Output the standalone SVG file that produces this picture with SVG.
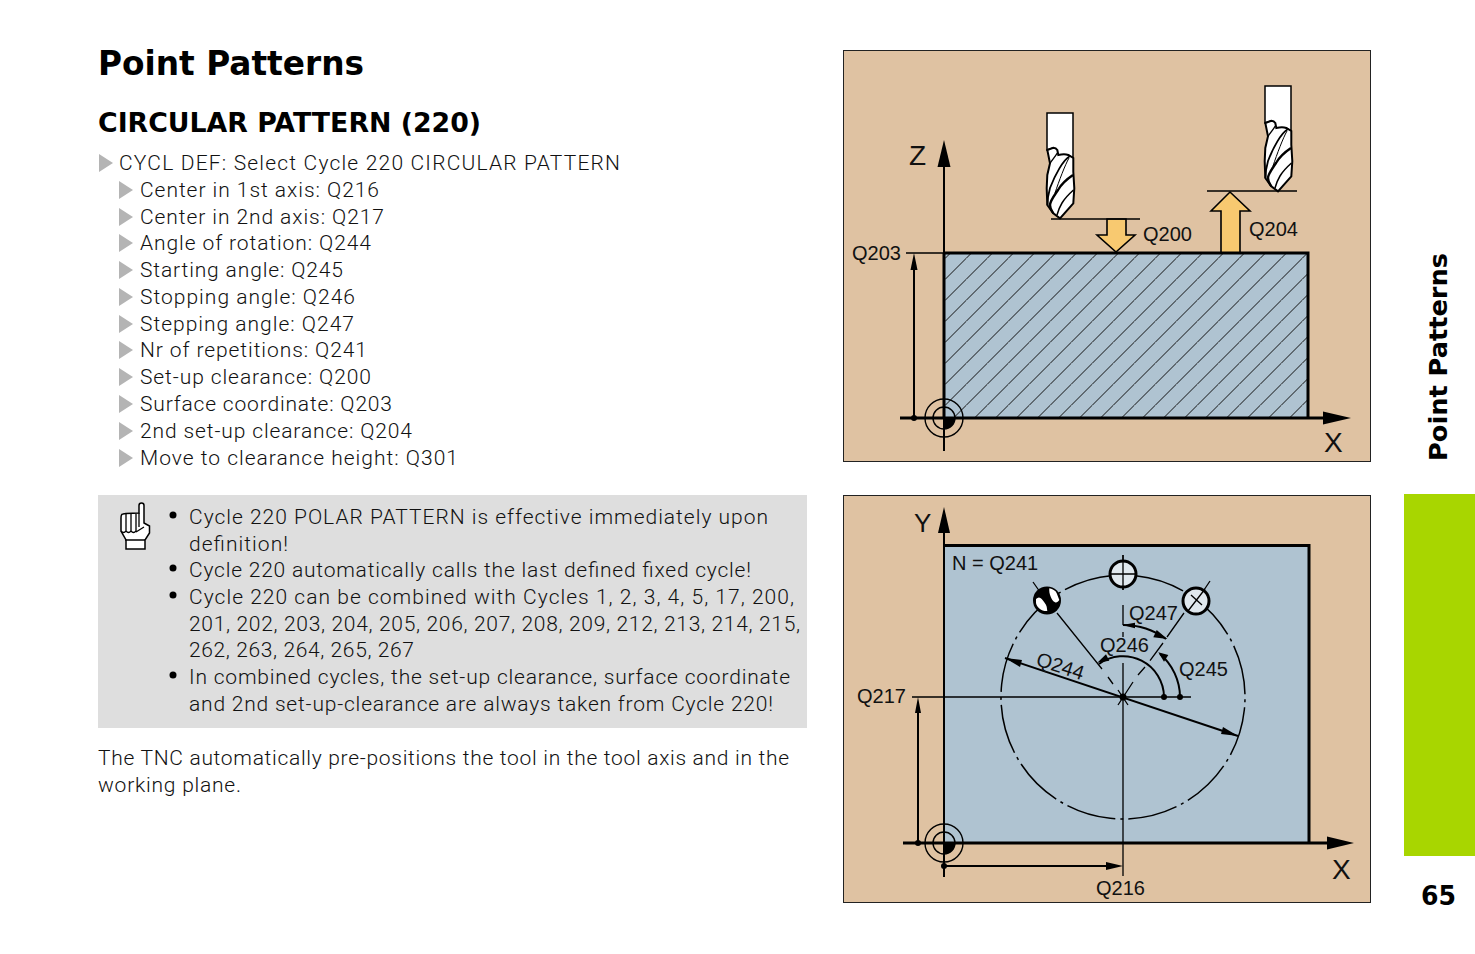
<svg xmlns="http://www.w3.org/2000/svg" xmlns:xlink="http://www.w3.org/1999/xlink" width="1475" height="954" viewBox="0 0 1475 954">
<style>
.t{font-family:Roboto,"Liberation Sans",sans-serif;font-weight:300;font-size:21px;fill:#111}
.h{font-family:"DejaVu Sans",sans-serif;font-weight:700;fill:#000}
.l{font-family:"Liberation Sans",Arial,sans-serif;font-size:20px;fill:#111}
.a{font-family:"Liberation Sans",Arial,sans-serif;font-size:28px;fill:#111}
.panel{fill:#dfc2a2;stroke:#222;stroke-width:1}
.blk{fill:#afc3d1}
.w{fill:none;stroke:#000;stroke-width:1.300}
.m{fill:none;stroke:#000;stroke-width:2}
.d{fill:#000}
.tri{fill:#b4b4b4}
.y{fill:#f8c970;stroke:#000;stroke-width:1.600}
.hole{fill:#e0e8ee;stroke:#000;stroke-width:3}
</style>
<defs>
<pattern id="hatch" patternUnits="userSpaceOnUse" width="21" height="21">
<path d="M6.500 0L0 6.500M27.500 0L0 27.500" stroke="#111" stroke-width="1" fill="none"/>
</pattern>
<polygon id="tr" points="0,0 14,9 0,18"/>
<g id="tool">
<path d="M0 0H26V45L21 42H11L6 35L0 37Z" fill="#fff" stroke="#000" stroke-width="1.500"/>
<path d="M0.300 37L6.300 34.700C9 35 10.300 37 10.300 37L11.300 42C15 41 19 41 21.300 42L26.300 45V58.700L27.300 75.300L26.300 90.300L13 105.300L6.300 100.300L0.300 92L-0.300 75.300L0.300 62L3 50.300Z" fill="#fff" stroke="#000" stroke-width="2"/>
<path d="M10.300 40C8 44 5 47 3 50.300" fill="none" stroke="#000" stroke-width="1.400"/>
<path d="M23 43C16 47 8 62 3 75C1 82 0.500 88 0.500 92" fill="none" stroke="#000" stroke-width="1.800"/>
<path d="M22 45C18 52 12 68 8 80" fill="none" stroke="#000" stroke-width="1"/>
<path d="M26 62C20 66 15 70 11 77C7 83 3 88 3 92C3 96 5 98 6.300 100.300" fill="none" stroke="#000" stroke-width="2.400"/>
<path d="M26.500 77C22 81 18 85 15 90C12 95 11 98 10 102" fill="none" stroke="#000" stroke-width="1.500"/>
</g>
<g id="origin">
<path d="M0 0H11A11 11 0 0 1 0 11Z" fill="#000"/>
<circle r="11" fill="none" stroke="#000" stroke-width="1.400"/>
<circle r="19" fill="none" stroke="#000" stroke-width="1.400"/>
</g>
</defs>
<rect width="1475" height="954" fill="#fff"/>

<g id="title">
<text class="h" x="98" y="75" font-size="33" textLength="266" lengthAdjust="spacingAndGlyphs">Point Patterns</text>
<text class="h" x="98" y="132" font-size="27" textLength="383" lengthAdjust="spacingAndGlyphs">CIRCULAR PATTERN (220)</text>
</g>

<g id="steps">
<use href="#tr" class="tri" x="99" y="154"/>
<text class="t" x="119" y="170" textLength="501">CYCL DEF: Select Cycle 220 CIRCULAR PATTERN</text>
<use href="#tr" class="tri" x="119" y="181"/><text class="t" x="140" y="197" textLength="239">Center in 1st axis: Q216</text>
<use href="#tr" class="tri" x="119" y="208"/><text class="t" x="140" y="224" textLength="244">Center in 2nd axis: Q217</text>
<use href="#tr" class="tri" x="119" y="234"/><text class="t" x="140" y="250" textLength="231">Angle of rotation: Q244</text>
<use href="#tr" class="tri" x="119" y="261"/><text class="t" x="140" y="277" textLength="203">Starting angle: Q245</text>
<use href="#tr" class="tri" x="119" y="288"/><text class="t" x="140" y="304" textLength="215">Stopping angle: Q246</text>
<use href="#tr" class="tri" x="119" y="315"/><text class="t" x="140" y="331" textLength="214">Stepping angle: Q247</text>
<use href="#tr" class="tri" x="119" y="341"/><text class="t" x="140" y="357" textLength="227">Nr of repetitions: Q241</text>
<use href="#tr" class="tri" x="119" y="368"/><text class="t" x="140" y="384" textLength="231">Set-up clearance: Q200</text>
<use href="#tr" class="tri" x="119" y="395"/><text class="t" x="140" y="411" textLength="252">Surface coordinate: Q203</text>
<use href="#tr" class="tri" x="119" y="422"/><text class="t" x="140" y="438" textLength="272">2nd set-up clearance: Q204</text>
<use href="#tr" class="tri" x="119" y="449"/><text class="t" x="140" y="465" textLength="318">Move to clearance height: Q301</text>
</g>

<g id="note">
<rect x="98" y="495" width="709" height="233" fill="#dedede"/>
<path d="M139 513V505.500Q139 503 141.500 503Q144 503 144 505.500V523L149.500 526V533L145 540V549H126V540L121 531V518Q121 514 123 514L126 513.500L139 513Z" fill="#fff" stroke="#000" stroke-width="1.500"/>
<path d="M126 514V531Q128.500 534 131 531V514M131 531Q133.500 534 136 531V514M139 513V527M121 531Q123.500 534 126 531M136 532L144 527M125 540H145" fill="none" stroke="#000" stroke-width="1.300"/>
<circle class="d" cx="173" cy="515" r="3.500"/><circle class="d" cx="173" cy="568" r="3.500"/><circle class="d" cx="173" cy="595" r="3.500"/><circle class="d" cx="173" cy="675" r="3.500"/>
<text class="t" x="189" y="523.500" textLength="579">Cycle 220 POLAR PATTERN is effective immediately upon</text>
<text class="t" x="189" y="550.500" textLength="99">definition!</text>
<text class="t" x="189" y="576.500" textLength="562">Cycle 220 automatically calls the last defined fixed cycle!</text>
<text class="t" x="189" y="603.500" textLength="605">Cycle 220 can be combined with Cycles 1, 2, 3, 4, 5, 17, 200,</text>
<text class="t" x="189" y="630.500" textLength="611">201, 202, 203, 204, 205, 206, 207, 208, 209, 212, 213, 214, 215,</text>
<text class="t" x="189" y="656.500" textLength="225">262, 263, 264, 265, 267</text>
<text class="t" x="189" y="683.500" textLength="601">In combined cycles, the set-up clearance, surface coordinate</text>
<text class="t" x="189" y="710.500" textLength="584">and 2nd set-up-clearance are always taken from Cycle 220!</text>
</g>

<g id="para">
<text class="t" x="98" y="764.500" textLength="691">The TNC automatically pre-positions the tool in the tool axis and in the</text>
<text class="t" x="98" y="791.500" textLength="143">working plane.</text>
</g>

<g id="side">
<rect x="1404" y="494" width="71" height="362" fill="#a8d600"/>
<text class="h" transform="translate(1447 461) rotate(-90)" font-size="25" textLength="208" lengthAdjust="spacingAndGlyphs">Point Patterns</text>
<text class="h" x="1421" y="905" font-size="27" textLength="35" lengthAdjust="spacingAndGlyphs">65</text>
</g>

<g id="diagram-top">
<rect class="panel" x="843.500" y="50.500" width="527" height="411"/>
<rect class="blk" x="944" y="253" width="364" height="165"/>
<rect x="944" y="253" width="364" height="165" fill="url(#hatch)"/>
<use href="#tool" x="1047" y="113"/>
<use href="#tool" x="1265" y="86"/>
<path class="y" d="M1107 219V235H1097L1116 252L1135 235H1126V219Z"/>
<path class="y" d="M1221 253V211H1211L1230 192L1250 211H1240V253Z"/>
<path d="M944 253V418M944 253H1308V418" fill="none" stroke="#000" stroke-width="3"/>
<use href="#origin" x="944" y="418"/>
<g id="connectors-top">
<path class="w" d="M1051 219H1140M1207 191H1297M906 253H944"/>
<path class="m" d="M944 165V451M914 262V418"/>
<path d="M900 418H1328" stroke="#000" stroke-width="3"/>
<polygon class="d" points="944,140 950.500,167 937.500,167"/>
<polygon class="d" points="1351,418 1323,411.500 1323,424.500"/>
<polygon class="d" points="914,253 917.500,270 910.500,270"/>
<circle class="d" cx="914" cy="418" r="3"/>
</g>
<text class="a" x="909" y="165">Z</text>
<text class="a" x="1324" y="452">X</text>
<text class="l" x="1143" y="241">Q200</text>
<text class="l" x="1249" y="236">Q204</text>
<text class="l" x="852" y="260">Q203</text>
</g>

<g id="diagram-bottom">
<rect class="panel" x="843.500" y="495.500" width="527" height="407"/>
<rect class="blk" x="944" y="545" width="365" height="298"/>
<path d="M944 545.500H1309V843" fill="none" stroke="#000" stroke-width="3"/>
<use href="#origin" x="944" y="843"/>
<circle cx="1123" cy="697" r="122" fill="none" stroke="#000" stroke-width="1.500" stroke-dasharray="50 5 3 5" transform="rotate(-84 1123 697)"/>
<g id="connectors-bottom">
<path class="w" d="M912 697H1191M1123 555V590M1123 605V625M1123 632V637M1123 663V876"/>
<path class="w" d="M1033 582L1040 592M1057 613L1102 669M1108 677L1113 684M1118 690L1128 705"/>
<path class="w" d="M1210 581L1204 590M1184 613L1167 637M1163 643L1150 660.700M1145 667L1138 675M1133 682L1118 705"/>
<path d="M1005 658L1238 736" class="m"/>
<polygon class="d" points="1005,658 1022,660 1020,667"/>
<polygon class="d" points="1238,736 1221,734 1223,727"/>
<path d="M1164 697A41 41 0 0 0 1099 664" class="m"/>
<polygon class="d" points="1097.300,662.700 1106,654.300 1109.300,660.700"/>
<path d="M1180 697A57 57 0 0 0 1160 654" class="m"/>
<polygon class="d" points="1158.300,652.300 1168.300,655 1164,661.700"/>
<path d="M1123 625A72 72 0 0 1 1166 639" class="m"/>
<polygon class="d" points="1122.300,625 1135,622.700 1135,628.300"/>
<polygon class="d" points="1167.300,639 1156.700,630 1153.300,637.300"/>
<circle class="d" cx="1123" cy="697" r="3.500"/><circle class="d" cx="1164" cy="697" r="3"/><circle class="d" cx="1180" cy="697" r="3"/>
<path class="m" d="M944 531V877M918 706V843M944 866H1110"/>
<path d="M903 843H1330" stroke="#000" stroke-width="3"/>
<polygon class="d" points="944,507 950,533 938,533"/>
<polygon class="d" points="1354,843 1327,836.500 1327,849.500"/>
<polygon class="d" points="918,697 921,713 915,713"/>
<polygon class="d" points="1123,866 1106,862 1106,870"/>
<circle class="d" cx="918" cy="843" r="3"/><circle class="d" cx="944" cy="866" r="3"/>
</g>
<g id="hole-start"><circle cx="1047" cy="600.500" r="14" fill="#000"/><path d="M1036 599C1038 597 1040 597 1041.700 599C1044 602 1046 604 1046.700 606.700L1047.300 611C1042 611.500 1037 608 1036 603ZM1049.300 588.300C1053 589 1056 591 1056.700 593.300L1059.300 600C1058 602 1056.500 603 1055 602.300C1052.500 601 1051.500 598.500 1050.700 596.700C1049.500 594 1049 591 1049.300 588.300Z" fill="#fff"/></g>
<g id="hole-mid"><circle class="hole" cx="1123" cy="574" r="13"/><path class="w" d="M1110 574H1136M1123 555V590"/></g>
<g id="hole-end"><circle class="hole" cx="1196" cy="601" r="13"/><path class="w" d="M1188 611L1205 589M1191 595L1202 605"/></g>
<text class="a" x="914" y="532" style="font-size:26px">Y</text>
<text class="a" x="1332" y="879">X</text>
<text class="l" x="952" y="570">N = Q241</text>
<text class="l" x="1129" y="620">Q247</text>
<text class="l" x="1100" y="652">Q246</text>
<text class="l" x="1179" y="676">Q245</text>
<text class="l" transform="translate(1035 665) rotate(18)">Q244</text>
<text class="l" x="857" y="703">Q217</text>
<text class="l" x="1096" y="895">Q216</text>
</g>
</svg>
